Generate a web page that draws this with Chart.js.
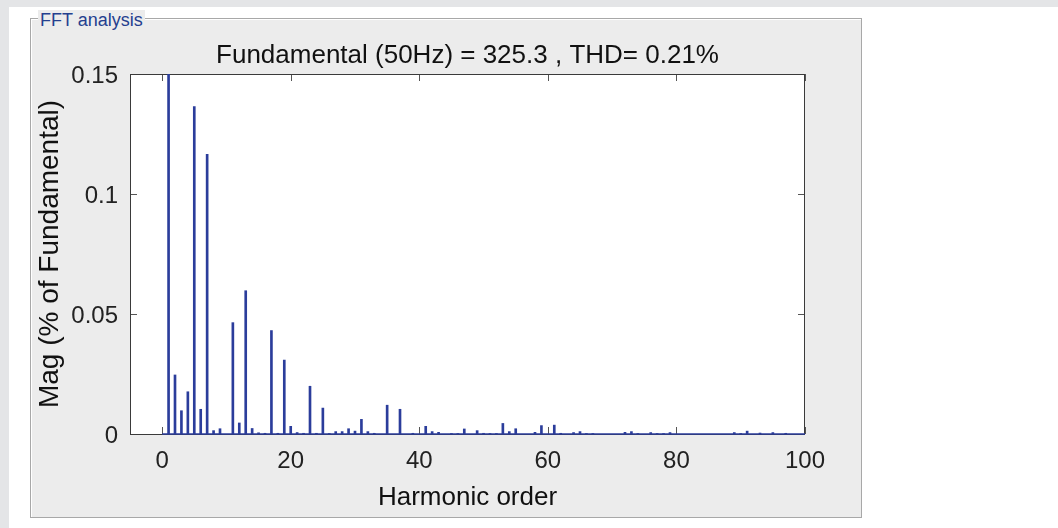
<!DOCTYPE html>
<html>
<head>
<meta charset="utf-8">
<title>FFT analysis</title>
<script src="https://cdn.jsdelivr.net/npm/chart.js@4.4.1/dist/chart.umd.min.js"></script>
<style>
  html, body { margin: 0; padding: 0; background: #fff; }
  #page { position: relative; width: 1058px; height: 528px; overflow: hidden; font-family: "Liberation Sans", Arial, sans-serif; }
  #topband { position: absolute; left: 0; top: 0; width: 1058px; height: 7px; background: #e4e5e7; }
  #leftband { position: absolute; left: 0; top: 0; width: 9px; height: 528px; background: #e4e5e7; }
  #panel {
    position: absolute; left: 30px; top: 18px; width: 830px; height: 498px;
    background: #ececec; border: 1px solid #a8a8a8;
    box-shadow: inset 1px 1px 0 #fff;
  }
  #panel-label {
    position: absolute; left: 38px; top: 10px; padding: 0 2px;
    background: #ececec; color: #24408f; font-size: 18px; line-height: 20px;
  }
  #fft { position: absolute; left: 0; top: 0; }
</style>
</head>
<body>
<div id="page">
  <div id="topband"></div>
  <div id="leftband"></div>
  <div id="panel"></div>
  <div id="panel-label">FFT analysis</div>
  <canvas id="fft" width="1058" height="528"></canvas>
</div>
<script>
// Harmonic spectrum, magnitudes in % of the fundamental (order 1 = 100)
const orders = [1, 2, 3, 4, 5, 6, 7, 8, 9, 11, 12, 13, 14, 15, 16, 17, 18, 19, 20, 21, 22, 23, 24, 25, 26, 27, 28, 29, 30,
  31, 32, 33, 35, 37, 39, 41, 42, 43, 45, 46, 47, 49, 50, 51, 52, 53, 54, 55, 58, 59, 61, 62, 64, 65, 66, 67,
  72, 73, 74, 76, 77, 78, 79, 89, 90, 91, 93, 95, 97];
const mags = [100, 0.0246, 0.0097, 0.0176, 0.1364, 0.0103, 0.1165, 0.0014, 0.0022, 0.0464, 0.0046, 0.0597, 0.0023, 0.0005, 0.0003, 0.0431, 0.0003, 0.0308, 0.0032, 0.0006, 0.0003, 0.0199, 0.0003, 0.0108, 0.0002, 0.001, 0.001, 0.0022, 0.0012,
  0.0061, 0.001, 0.0003, 0.012, 0.0103, 0.0003, 0.0032, 0.001, 0.0007, 0.0002, 0.0002, 0.0021, 0.0014, 0.0003, 0.0002, 0.0002, 0.0044, 0.001, 0.0022, 0.0007, 0.0035, 0.0037, 0.0003, 0.0006, 0.001, 0.0002, 0.0002,
  0.0007, 0.001, 0.0002, 0.0006, 0.0002, 0.0002, 0.0006, 0.0006, 0.0002, 0.0012, 0.0004, 0.0006, 0.0003];
const orderRange = [0, 100];
const xTicks = [0, 20, 40, 60, 80, 100];
const yTicks = [0, 0.05, 0.1, 0.15];
const xLimits = [-5, 100];
const yLimits = [0, 0.15];

const fundamentalHz = 50;
const fundamentalMag = 325.3;
const thd = 0.21;

const stemColor = '#2b3d9b';
const fontFamily = '"Liberation Sans", Arial, sans-serif';

// white plot background, box frame and inward ticks on all four sides
const axesBox = {
  id: 'axesBox',
  beforeDatasetsDraw(chart) {
    const {ctx, chartArea: a, scales} = chart;
    ctx.save();
    ctx.fillStyle = '#fff';
    ctx.fillRect(a.left, a.top, a.right - a.left, a.bottom - a.top);
    ctx.strokeStyle = '#555';
    ctx.lineWidth = 1;
    ctx.beginPath();
    xTicks.forEach(v => {
      const x = Math.round(scales.x.getPixelForValue(v)) + 0.5;
      ctx.moveTo(x, a.bottom); ctx.lineTo(x, a.bottom - 7);
      ctx.moveTo(x, a.top); ctx.lineTo(x, a.top + 7);
    });
    yTicks.forEach(v => {
      const y = Math.round(scales.y.getPixelForValue(v)) + 0.5;
      ctx.moveTo(a.left, y); ctx.lineTo(a.left + 7, y);
      ctx.moveTo(a.right, y); ctx.lineTo(a.right - 7, y);
    });
    ctx.stroke();
    ctx.strokeStyle = '#3a3a3a';
    ctx.strokeRect(a.left + 0.5, a.top + 0.5, a.right - a.left - 1, a.bottom - a.top);
    ctx.restore();
  }
};

new Chart(document.getElementById('fft'), {
  data: {
    datasets: [
      {
        type: 'bar',
        data: orders.map((h, i) => ({x: h, y: mags[i]})),
        backgroundColor: stemColor,
        borderWidth: 0,
        barThickness: 2,
        grouped: false,
        clip: 0
      },
      {
        type: 'line',
        data: orderRange.map(h => ({x: h, y: 0})),
        borderColor: stemColor,
        borderWidth: 1.5,
        pointRadius: 0,
        clip: false
      }
    ]
  },
  options: {
    responsive: false,
    animation: false,
    layout: { padding: { left: 0, top: 0, right: 253, bottom: 0 } },
    plugins: {
      legend: { display: false },
      tooltip: { enabled: false },
      title: {
        display: true,
        fullSize: false,
        text: `Fundamental (${fundamentalHz}Hz) = ${fundamentalMag} , THD= ${thd}%`,
        color: '#111',
        font: { family: fontFamily, size: 26, weight: 'normal' },
        padding: { top: 40, bottom: 2.8 }
      }
    },
    scales: {
      x: {
        type: 'linear',
        offset: false,
        min: xLimits[0],
        max: xLimits[1],
        grid: { display: false, tickLength: 0 },
        border: { display: false },
        afterBuildTicks: s => { s.ticks = xTicks.map(v => ({value: v})); },
        afterFit: s => { s.height = 94; },
        ticks: {
          color: '#222',
          padding: 13,
          maxRotation: 0,
          font: { family: fontFamily, size: 24 },
          callback: v => String(v)
        },
        title: {
          display: true,
          text: 'Harmonic order',
          color: '#111',
          font: { family: fontFamily, size: 26 },
          padding: { top: 0, bottom: 15 }
        }
      },
      y: {
        type: 'linear',
        min: yLimits[0],
        max: yLimits[1],
        grid: { display: false, tickLength: 0 },
        border: { display: false },
        afterBuildTicks: s => { s.ticks = yTicks.map(v => ({value: v})); },
        afterFit: s => { s.width = 130; },
        ticks: {
          color: '#222',
          padding: 12,
          labelOffset: 2,
          font: { family: fontFamily, size: 24 },
          callback: v => String(v)
        },
        title: {
          display: true,
          text: 'Mag (% of Fundamental)',
          color: '#111',
          font: { family: fontFamily, size: 28 },
          padding: { top: 33, bottom: 0 }
        }
      }
    }
  },
  plugins: [axesBox]
});
</script>
</body>
</html>
